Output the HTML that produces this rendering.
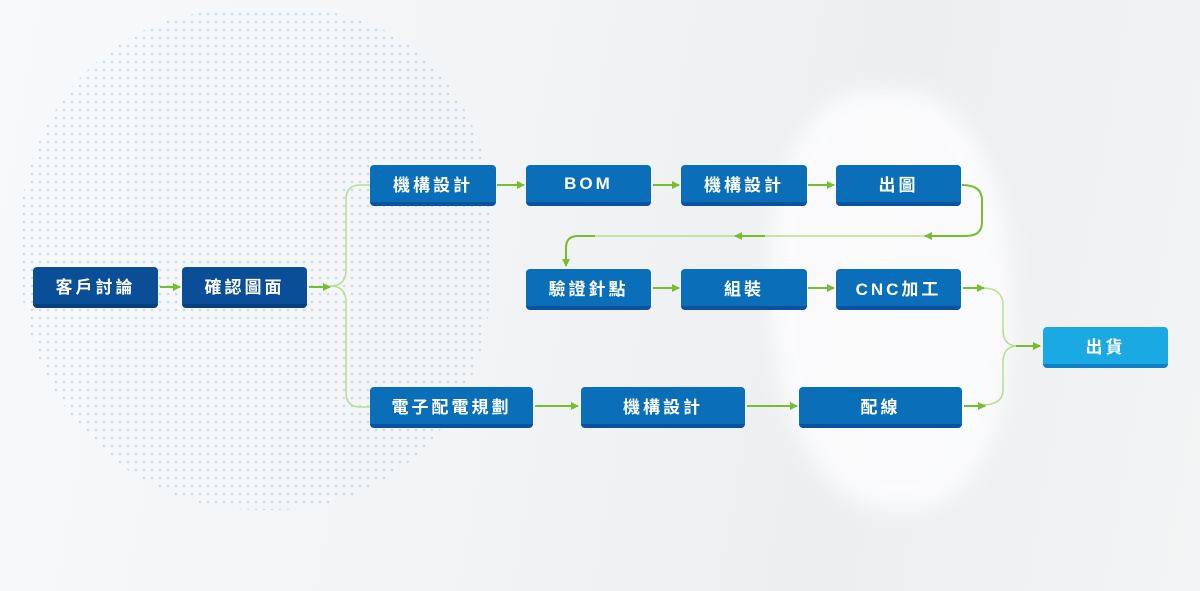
<!DOCTYPE html>
<html><head><meta charset="utf-8">
<style>
html,body{margin:0;padding:0}
body{width:1200px;height:591px;position:relative;overflow:hidden;
background:linear-gradient(100deg,#f7f9fb 0%,#f1f3f5 45%,#eceef0 70%,#f3f4f5 100%);
font-family:"Liberation Sans","Noto Sans CJK TC",sans-serif;}
.dots{position:absolute;left:20px;top:10px;width:470px;height:500px;
background-image:radial-gradient(circle,#a6cdeb 1.1px,transparent 1.5px);background-size:8px 8px;
border-radius:45% 40% 45% 50%;opacity:.6;}
.cloud{position:absolute;left:770px;top:90px;width:240px;height:420px;background:#fdfdfe;border-radius:40% 45% 40% 50%;filter:blur(10px);opacity:.85}
.b{position:absolute;height:37px;border-radius:4px;color:#fff;font-size:17px;font-weight:bold;letter-spacing:3px;
display:flex;align-items:center;justify-content:center;box-sizing:border-box;}
.d{background:#0b4e98;border-bottom:4px solid #073f7c;}
.m{background:#0a6fb8;border-bottom:4px solid #0a52a0;}
.l{background:#1aa9e2;border-bottom:4px solid #0f80c6;}
svg{position:absolute;left:0;top:0}
</style></head><body>
<div class="dots"></div>
<div class="cloud"></div>
<svg width="1200" height="591">
<defs><marker id="a" markerWidth="8" markerHeight="8" refX="7" refY="4" orient="auto" markerUnits="userSpaceOnUse"><path d="M0,0L8,4L0,8z" fill="#77be2e"/></marker></defs>
<g fill="none" stroke="#b9dd91" stroke-width="1.5">
<path d="M330,286 Q346,286 346,270 V200 Q346,185 360,185 H370"/>
<path d="M330,286 Q346,286 346,302 V392 Q346,407 360,407 H370"/>
<path d="M982,288 Q1003,288 1003,305 V330 Q1003,346 1018,346"/>
<path d="M982,405 Q1003,405 1003,390 V362 Q1003,346 1018,346"/>
<path d="M930,236 H595"/>
</g>
<g fill="none" stroke="#77be2e" stroke-width="2" marker-end="url(#a)">
<path d="M160,287 H180"/><path d="M309,287 H330"/>
<path d="M497,185 H524"/><path d="M653,185 H679"/><path d="M808,185 H834"/>
<path d="M653,288 H679"/><path d="M808,288 H834"/><path d="M963,288 H984"/>
<path d="M535,406 H578"/><path d="M747,406 H797"/><path d="M964,406 H985"/>
<path d="M1016,346 H1040"/>
<path d="M765,236 H735"/>
<path d="M962,185 Q982,185 982,200 V222 Q982,236 966,236 H925"/>
<path d="M595,236 H578 Q566,236 566,248 V266"/>
</g>
</svg>
<div class="b d" style="left:33px;top:267px;width:125px;height:41px">客戶討論</div>
<div class="b d" style="left:182px;top:267px;width:125px;height:41px">確認圖面</div>
<div class="b m" style="left:370px;top:165px;width:126px;height:41px">機構設計</div>
<div class="b m" style="left:526px;top:165px;width:125px;height:41px">BOM</div>
<div class="b m" style="left:681px;top:165px;width:126px;height:41px">機構設計</div>
<div class="b m" style="left:836px;top:165px;width:125px;height:41px">出圖</div>
<div class="b m" style="left:526px;top:269px;width:125px;height:41px">驗證針點</div>
<div class="b m" style="left:681px;top:269px;width:126px;height:41px">組裝</div>
<div class="b m" style="left:836px;top:269px;width:125px;height:41px">CNC加工</div>
<div class="b l" style="left:1043px;top:327px;width:125px;height:41px">出貨</div>
<div class="b m" style="left:370px;top:387px;width:163px;height:41px">電子配電規劃</div>
<div class="b m" style="left:581px;top:387px;width:164px;height:41px">機構設計</div>
<div class="b m" style="left:799px;top:387px;width:163px;height:41px">配線</div>
</body></html>
